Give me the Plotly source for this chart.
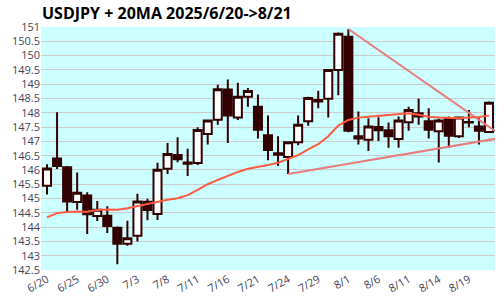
import plotly.graph_objects as go

dates = ["6/20", "6/23", "6/24", "6/25", "6/26", "6/27", "6/30",
         "7/1", "7/2", "7/3", "7/4", "7/7", "7/8", "7/9", "7/10", "7/11",
         "7/14", "7/15", "7/16", "7/17", "7/18", "7/21", "7/22", "7/23", "7/24", "7/25",
         "7/28", "7/29", "7/30", "7/31", "8/1", "8/4", "8/5", "8/6", "8/7", "8/8",
         "8/11", "8/12", "8/13", "8/14", "8/15", "8/18", "8/19", "8/20", "8/21"]

opens = [145.45, 146.40, 146.09, 144.88, 145.11, 144.39, 144.40,
         143.98, 143.42, 143.70, 144.89, 144.46, 146.04, 146.52, 146.26, 146.24,
         147.26, 147.76, 148.81, 147.83, 148.56, 148.21, 147.21, 146.58, 146.45, 146.97,
         147.70, 148.39, 148.49, 149.50, 150.66, 147.18, 147.06, 147.50, 147.39, 147.08,
         147.67, 147.98, 147.70, 147.35, 147.78, 147.18, 147.66, 147.52, 147.33]
highs = [146.20, 148.02, 146.14, 145.91, 145.22, 144.91, 144.73,
         144.02, 144.22, 145.17, 144.99, 146.25, 146.94, 147.14, 146.74, 147.49,
         147.75, 148.98, 149.16, 149.05, 148.87, 148.64, 147.90, 147.18, 146.99, 147.90,
         148.56, 148.77, 149.52, 150.81, 150.93, 148.04, 147.81, 147.84, 147.66, 147.87,
         148.21, 148.50, 148.16, 147.79, 147.87, 147.86, 148.10, 147.81, 148.39]
lows = [145.14, 146.03, 144.53, 144.61, 143.76, 144.21, 143.79,
        142.70, 143.35, 143.50, 144.24, 144.25, 145.86, 146.27, 145.79, 146.17,
        146.89, 147.58, 146.94, 147.75, 148.21, 147.10, 146.34, 146.14, 145.86, 146.86,
        147.55, 148.16, 147.83, 148.61, 147.32, 146.89, 146.66, 147.01, 146.78, 146.78,
        147.37, 147.58, 147.10, 146.26, 146.78, 147.12, 147.49, 146.89, 147.30]
closes = [146.05, 146.14, 144.90, 145.20, 144.45, 144.61, 144.04,
          143.42, 143.61, 144.90, 144.60, 146.01, 146.56, 146.37, 146.22, 147.40,
          147.73, 148.82, 147.90, 148.56, 148.76, 147.41, 146.70, 146.53, 146.97, 147.58,
          148.52, 148.45, 149.50, 150.76, 147.37, 147.10, 147.52, 147.39, 147.18, 147.73,
          148.10, 147.87, 147.41, 147.73, 147.20, 147.83, 147.68, 147.37, 148.35]

ma20 = [144.34, 144.49, 144.53, 144.55, 144.54, 144.60, 144.62,
        144.61, 144.66, 144.74, 144.82, 144.89, 144.96, 145.01, 145.12, 145.30,
        145.50, 145.65, 145.80, 145.93, 146.04, 146.10, 146.17, 146.25, 146.38, 146.52,
        146.72, 146.90, 147.18, 147.55, 147.75, 147.83, 147.86, 147.89, 147.92, 147.97,
        147.98, 147.93, 147.86, 147.83, 147.81, 147.81, 147.83, 147.85, 147.90]

# trendlines: index positions and values
trend_down_x = [30, 46]
trend_down_y = [150.93, 147.02]
trend_up_x = [24, 46]
trend_up_y = [145.86, 147.17]

tick_step = 3
title_text = "USDJPY + 20MA 2025/6/20->8/21"

idx = list(range(len(dates)))
DARK = "#330000"
TREND = "#e87c7c"

fig = go.Figure()
fig.add_trace(go.Scatter(x=trend_down_x, y=trend_down_y, mode="lines",
                         line=dict(color=TREND, width=2),
                         showlegend=False, hoverinfo="skip"))
fig.add_trace(go.Scatter(x=trend_up_x, y=trend_up_y, mode="lines",
                         line=dict(color=TREND, width=2),
                         showlegend=False, hoverinfo="skip"))
fig.add_trace(go.Scatter(x=idx, y=ma20, mode="lines",
                         line=dict(color="#ff5a40", width=2),
                         showlegend=False, name="20MA"))
fig.add_trace(go.Candlestick(
    x=idx, open=opens, high=highs, low=lows, close=closes,
    increasing=dict(line=dict(color=DARK, width=2), fillcolor="white"),
    decreasing=dict(line=dict(color=DARK, width=2), fillcolor=DARK),
    whiskerwidth=0, showlegend=False, name="USDJPY"))

fig.update_layout(
    width=500, height=300,
    margin=dict(l=41, r=5, t=27, b=26),
    paper_bgcolor="white", plot_bgcolor="#ccffff",
    boxgap=0.2, boxgroupgap=0,
    font=dict(family="Open Sans", color="#444455"),
    title=dict(text=title_text, x=0.084, xanchor="left", xref="container",
               y=0.955, yanchor="middle",
               font=dict(family="Open Sans", size=16, color="black", weight="bold")),
    xaxis=dict(range=[-0.6, 44.6], showgrid=False, zeroline=False,
               tickvals=idx[::tick_step], ticktext=dates[::tick_step],
               tickangle=-30, tickfont=dict(size=11), ticks="",
               rangeslider=dict(visible=False), fixedrange=True),
    yaxis=dict(range=[142.5, 151], dtick=0.5, tick0=142.5, showgrid=True,
               gridcolor="#cccccc", gridwidth=1, zeroline=False,
               tickfont=dict(size=11), ticks=""),
)

fig.write_html("out.html")
